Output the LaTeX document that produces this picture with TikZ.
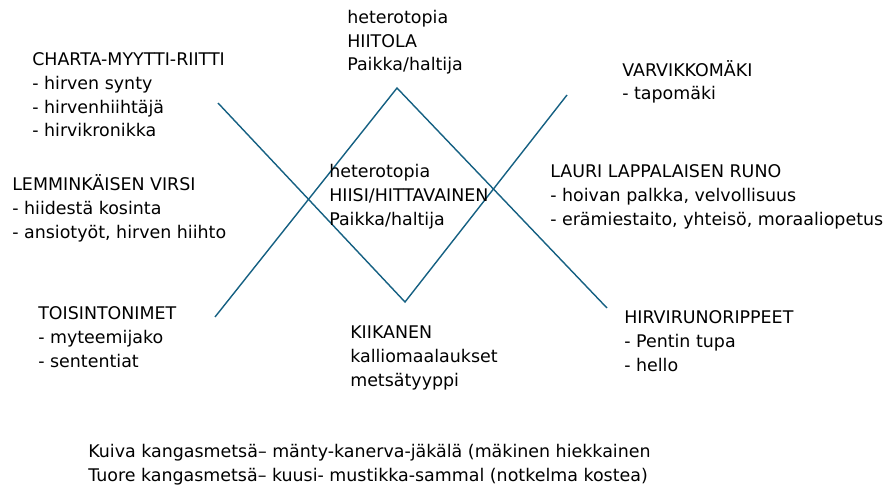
\documentclass[tikz,border=0pt]{standalone}
\usepackage{fontspec}
\setmainfont{DejaVu Sans}
\definecolor{hiisiblue}{RGB}{21,96,130}
\usetikzlibrary{positioning}

\begin{document}
\begin{tikzpicture}[x=0.025cm, y=-0.025cm,
    teksti/.style={anchor=base west, align=left, inner sep=0pt, font=\fontsize{12.4pt}{17pt}\selectfont},
    viiva/.style={draw=hiisiblue, line width=1pt}]
  \useasboundingbox (0,0) rectangle (883,486);
  % the V and the inverted V that cross into a diamond
  \coordinate (vL) at (218,103);
  \coordinate (vB) at (405,302);
  \coordinate (vR) at (567,95);
  \coordinate (aL) at (215,317);
  \coordinate (aT) at (397,88);
  \coordinate (aR) at (607,308);
  \draw[viiva] (vL) -- (vB) -- (vR);
  \draw[viiva] (aL) -- (aT) -- (aR);
  % text blocks, placed by the baseline of their last line
  \foreach \nimi/\x/\y/\rivit in {%
    hiitola/347/71/{heterotopia\\HIITOLA\\Paikka/haltija},%
    charta/32/137/{CHARTA-MYYTTI-RIITTI\\- hirven synty\\- hirvenhiihtäjä\\- hirvikronikka},%
    varvikko/622/100/{VARVIKKOMÄKI\\- tapomäki},%
    hiisi/329/225/{heterotopia\\HIISI/HITTAVAINEN\\Paikka/haltija},%
    lemminkainen/12/238/{LEMMINKÄISEN VIRSI\\- hiidestä kosinta\\- ansiotyöt, hirven hiihto},%
    lauri/550/225/{LAURI LAPPALAISEN RUNO\\- hoivan palkka, velvollisuus\\- erämiestaito, yhteisö, moraaliopetus},%
    toisinto/38/367/{TOISINTONIMET\\- myteemijako\\- sententiat},%
    kiikanen/350/386/{KIIKANEN\\kalliomaalaukset\\metsätyyppi},%
    hirvirunot/624/371/{HIRVIRUNORIPPEET\\- Pentin tupa\\- hello},%
    metsa/88/481/{Kuiva kangasmetsä– mänty-kanerva-jäkälä (mäkinen hiekkainen\\Tuore kangasmetsä– kuusi- mustikka-sammal (notkelma kostea)}%
  }{
    \node[teksti] (\nimi) at (\x,\y) {\rivit};
  }
\end{tikzpicture}
\end{document}
